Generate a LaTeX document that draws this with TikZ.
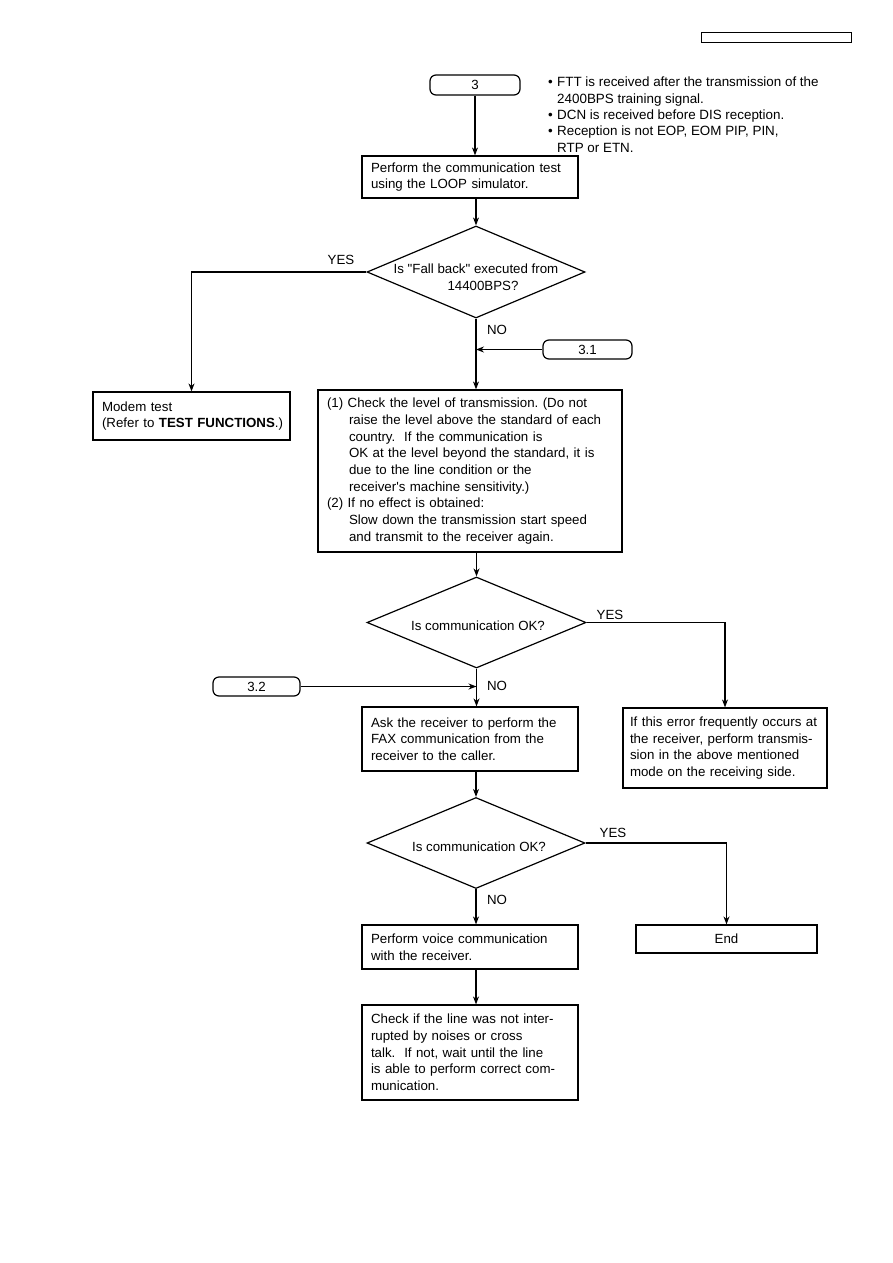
\documentclass[tikz,border=0pt]{standalone}
\usepackage{fontspec}
\setmainfont{Liberation Sans}
\usetikzlibrary{shapes.geometric,arrows.meta}
\tikzset{
  procbox/.style={draw,line width=1.2pt,align=left,inner xsep=9pt,inner ysep=0pt},
  connbox/.style={draw,line width=1.2pt,rounded corners=6pt,inner sep=0pt},
  decision/.style={draw,diamond,line width=1.2pt,inner sep=0pt},
  flow/.style={line width=1.2pt,-{Stealth[length=8pt,width=6pt]}},
  answer/.style={inner sep=0pt}
}
\newcommand{\ind}{\hspace*{22pt}}
\newcommand{\bul}{\makebox[9pt][l]{\textbullet}}
\newcommand{\dq}{\XeTeXglyph\XeTeXcharglyph"22\relax}
\newcommand{\sq}{\XeTeXglyph\XeTeXcharglyph"27\relax}
\frenchspacing

\begin{document}
\begin{tikzpicture}[x=1pt,y=-1pt,every node/.style={font=\fontsize{13.3}{16.7}\selectfont}]
  \useasboundingbox (0,0) rectangle (893,1263);
  \node[draw,line width=1pt,minimum width=150,minimum height=10,inner sep=0pt] (hdr) at (776,38) {};

  \node[connbox,minimum width=90,minimum height=20] (s3) at (475,85) {3};
  \node[answer,anchor=north west,align=left,font=\fontsize{13.4}{16.3}\selectfont] (notes) at (548,77)
    {\bul FTT is received after the transmission of the\\
     \hspace*{9pt}2400BPS training signal.\\
     \bul DCN is received before DIS reception.\\
     \bul Reception is not EOP, EOM PIP, PIN,\\
     \hspace*{9pt}RTP or ETN.};

  \node[procbox,text width=198pt,minimum height=42] (loop) at (470,177)
    {Perform the communication test\\using the LOOP simulator.};
  \draw[flow] (s3.south) -- (s3.south |- loop.north);

  \node[decision,minimum width=218,minimum height=92] (fb) at (476,272) {};
  \node[answer,align=center] (fbt) at (476,277) {Is \dq Fall back\dq{} executed from\\\hspace*{14pt}14400BPS?};
  \draw[flow] (loop.south -| fb.north) -- (fb.north);

  \node[procbox,inner xsep=9pt,text width=179pt,minimum height=48] (modem) at (191.5,416)
    {Modem test\\\mbox{(Refer to \textbf{TEST FUNCTIONS}.)}};
  \draw[flow] (fb.west) -| (modem.north);
  \node[answer] (yes1) at (341,260) {YES};

  \node[connbox,minimum width=89,minimum height=19] (c31) at (587.5,349.5) {3.1};
  \node[procbox,text width=286pt,minimum height=162] (level) at (470,471)
    {(1) Check the level of transmission. (Do not\\
     \ind raise the level above the standard of each\\
     \ind country.\ \ If the communication is\\
     \ind OK at the level beyond the standard, it is\\
     \ind due to the line condition or the\\
     \ind receiver\sq s machine sensitivity.)\\
     (2) If no effect is obtained:\\
     \ind Slow down the transmission start speed\\
     \ind and transmit to the receiver again.};
  \coordinate (j31) at (fb.south |- c31.west);
  \draw[flow] (fb.south) -- (fb.south |- level.north);
  \draw[flow] (c31.west) -- (j31);
  \node[answer] (no1) at (497,330) {NO};

  \node[decision,minimum width=219,minimum height=91] (ok1) at (476.5,622.5) {};
  \node[answer] (ok1t) at (478,626) {Is communication OK?};
  \draw[flow] (level.south -| ok1.north) -- (ok1.north);

  \node[procbox,inner xsep=7pt,text width=190pt,minimum height=80] (err) at (725,748)
    {If this error frequently occurs at\\the receiver, perform transmis-\\sion in the above mentioned\\mode on the receiving side.};
  \draw[flow] (ok1.east) -| (err.north);
  \node[answer] (yes2) at (610,615) {YES};

  \node[connbox,minimum width=87,minimum height=19] (c32) at (256.5,686.5) {3.2};
  \node[procbox,text width=198pt,minimum height=64] (ask) at (470,739)
    {Ask the receiver to perform the\\FAX communication from the\\receiver to the caller.};
  \coordinate (j32) at (ok1.south |- c32.east);
  \draw[flow] (ok1.south) -- (ok1.south |- ask.north);
  \draw[flow] (c32.east) -- (j32);
  \node[answer] (no2) at (497,686) {NO};

  \node[decision,minimum width=218,minimum height=91] (ok2) at (476,843) {};
  \node[answer] (ok2t) at (479,847) {Is communication OK?};
  \draw[flow] (ask.south -| ok2.north) -- (ok2.north);

  \node[procbox,minimum width=181,minimum height=28] (endb) at (726.5,939) {End};
  \draw[flow] (ok2.east) -| (endb.north);
  \node[answer] (yes3) at (613,833) {YES};

  \node[procbox,text width=198pt,minimum height=44] (voice) at (470,947)
    {Perform voice communication\\with the receiver.};
  \draw[flow] (ok2.south) -- (ok2.south |- voice.north);
  \node[answer] (no3) at (497,900) {NO};

  \node[procbox,text width=198pt,minimum height=95] (check) at (470,1052.5)
    {Check if the line was not inter-\\rupted by noises or cross\\talk.\ \ If not, wait until the line\\is able to perform correct com-\\munication.};
  \coordinate (v1) at (voice.south -| ok2.south);
  \coordinate (v2) at (check.north -| ok2.south);
  \draw[flow] (v1) -- (v2);
\end{tikzpicture}
\end{document}
